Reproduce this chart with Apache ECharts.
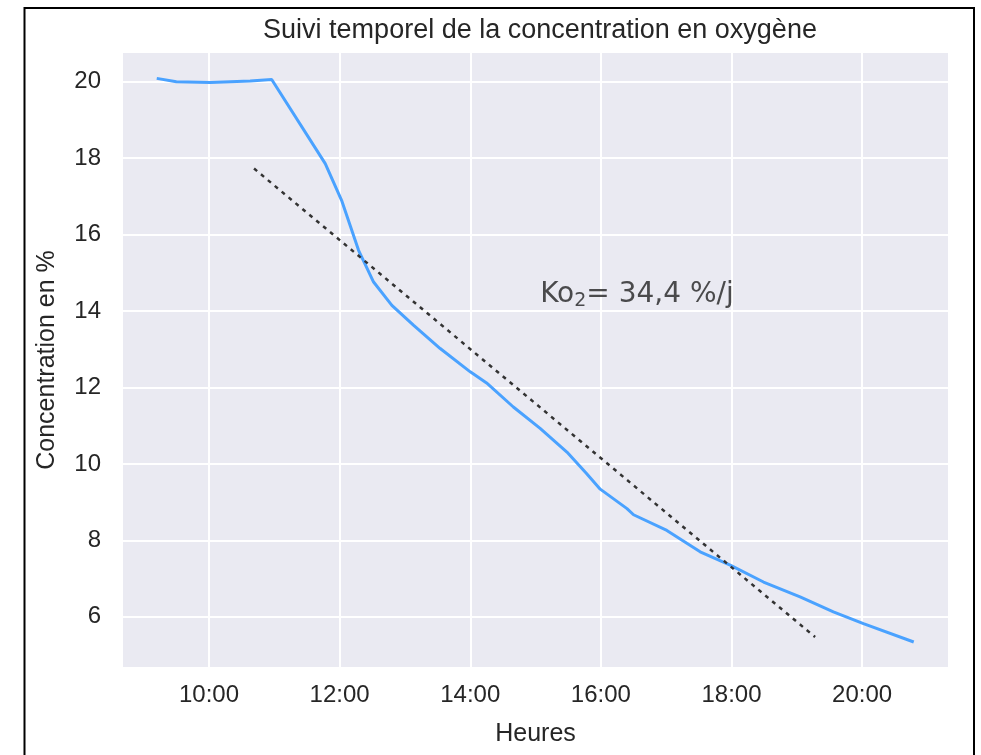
<!DOCTYPE html>
<html>
<head>
<meta charset="utf-8">
<script src="https://cdn.jsdelivr.net/npm/echarts@6/dist/echarts.min.js"></script>
<style>
html,body{margin:0;padding:0;background:#fff;}
#chart{width:981px;height:755px;}
</style>
</head>
<body>
<div id="chart"></div>
<script>
// Time in decimal hours, oxygen concentration in %
const hours = [9.20, 9.50, 10.02, 10.63, 10.96, 11.78, 12.03, 12.29, 12.52, 12.80, 13.13, 13.54, 14.00, 14.25, 14.66, 15.07, 15.48, 15.78, 15.99, 16.40, 16.50, 17.01, 17.52, 17.98, 18.49, 19.05, 19.56, 20.02, 20.79];
const concentration = [20.09, 20.00, 19.98, 20.02, 20.06, 17.86, 16.90, 15.59, 14.76, 14.15, 13.63, 13.02, 12.41, 12.12, 11.49, 10.93, 10.31, 9.75, 9.34, 8.83, 8.67, 8.26, 7.70, 7.35, 6.91, 6.52, 6.13, 5.82, 5.34];
// Linear trend (dotted) endpoints
const trendHours = [10.69, 19.28];
const trendValues = [17.73, 5.47];
// Annotation anchor
const annotationHour = [15.07];
const annotationValue = [14.42];
const titleText = 'Suivi temporel de la concentration en oxygène';
const xName = 'Heures';
const yName = 'Concentration en %';

const chart = echarts.init(document.getElementById('chart'));
const txt = '#262626';
const font = 'Liberation Sans, Arial, sans-serif';

chart.setOption({
  animation: false,
  backgroundColor: '#ffffff',
  title: {
    text: titleText,
    left: 535, textAlign: 'center', top: 12,
    textStyle: { fontFamily: font, fontSize: 27, fontWeight: 'normal', color: txt }
  },
  graphic: [{
    type: 'rect', silent: true, z: 100,
    shape: { x: 24.5, y: 8, width: 949.5, height: 780 },
    style: { fill: 'none', stroke: '#000', lineWidth: 2 }
  }],
  grid: {
    left: 122, right: 32, top: 52, bottom: 87,
    show: true, backgroundColor: '#EAEAF2', borderWidth: 0
  },
  xAxis: {
    type: 'value', min: 8.668, max: 21.33, splitNumber: 6,
    name: xName, nameLocation: 'middle', nameGap: 54,
    nameTextStyle: { fontFamily: font, fontSize: 25, color: txt },
    axisLine: { show: false }, axisTick: { show: false },
    splitLine: { show: true, lineStyle: { color: '#ffffff', width: 2 } },
    axisLabel: {
      margin: 15, fontFamily: font, fontSize: 24, color: txt,
      showMinLabel: false, showMaxLabel: false,
      formatter: v => Math.abs(v - Math.round(v)) < 1e-6 ? Math.round(v) + ':00' : ''
    }
  },
  yAxis: {
    type: 'value', min: 4.66, max: 20.78, splitNumber: 8,
    name: yName, nameLocation: 'middle', nameGap: 62,
    nameTextStyle: { fontFamily: font, fontSize: 25, color: txt },
    axisLine: { show: false }, axisTick: { show: false },
    splitLine: { show: true, lineStyle: { color: '#ffffff', width: 2 } },
    axisLabel: {
      margin: 21, fontFamily: font, fontSize: 24, color: txt,
      showMinLabel: false, showMaxLabel: false,
      formatter: v => Math.abs(v - Math.round(v)) < 1e-6 ? String(Math.round(v)) : ''
    }
  },
  series: [
    {
      type: 'line', data: hours.map((h, i) => [h, concentration[i]]),
      showSymbol: false, smooth: false,
      lineStyle: { color: '#4AA2FF', width: 3 }, z: 3
    },
    {
      type: 'line', data: trendHours.map((h, i) => [h, trendValues[i]]),
      showSymbol: false,
      lineStyle: { color: '#333333', width: 2.5, type: [4, 5] }, z: 4
    },
    {
      type: 'scatter', symbolSize: 0, silent: true,
      data: annotationHour.map((h, i) => [h, annotationValue[i]]),
      label: {
        show: true, position: 'right', distance: 0,
        formatter: '{a|Ko}{s|2}{a|= 34,4 %/j}',
        rich: {
          a: { fontFamily: 'DejaVu Sans, Verdana, sans-serif', fontSize: 28, color: '#222' },
          s: { fontFamily: 'DejaVu Sans, Verdana, sans-serif', fontSize: 19, color: '#222', verticalAlign: 'bottom', padding: [12, 0, 0, 0] }
        }
      }
    }
  ]
});
</script>
</body>
</html>
